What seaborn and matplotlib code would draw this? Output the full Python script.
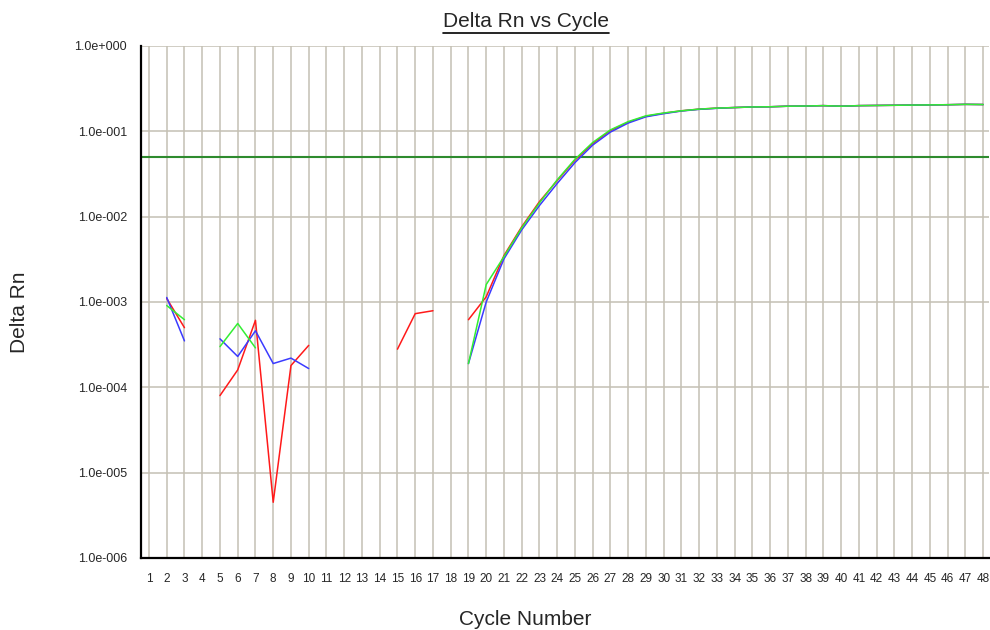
import numpy as np
import pandas as pd
import matplotlib
matplotlib.use("Agg")
import matplotlib.pyplot as plt
import seaborn as sns
from matplotlib.lines import Line2D
from matplotlib.ticker import FixedLocator, FuncFormatter

nan = np.nan

# Delta Rn per cycle for the three wells (nan = no value for that cycle)
cycles = list(range(1, 49))
red = [nan, 1.1e-3, 5.0e-4, nan, 8.0e-5, 1.6e-4, 6.1e-4, 4.5e-6, 1.8e-4, 3.1e-4,
       nan, nan, nan, nan, 2.8e-4, 7.3e-4, 7.9e-4, nan, 6.2e-4, 1.15e-3,
       3.5e-3, 7.6e-3, 1.5e-2, 2.65e-2, 4.6e-2, 7.2e-2, 0.102, 0.128, 0.150, 0.163,
       0.174, 0.182, 0.187, 0.190, 0.193, 0.194, 0.197, 0.198, 0.200, 0.197,
       0.200, 0.201, 0.202, 0.203, 0.204, 0.205, 0.207, 0.206]
blue = [nan, 1.13e-3, 3.5e-4, nan, 3.7e-4, 2.3e-4, 4.6e-4, 1.9e-4, 2.2e-4, 1.66e-4,
        nan, nan, nan, nan, nan, nan, nan, nan, 1.9e-4, 1.0e-3,
        3.2e-3, 7.0e-3, 1.35e-2, 2.45e-2, 4.3e-2, 6.9e-2, 0.098, 0.125, 0.148, 0.161,
        0.173, 0.181, 0.186, 0.190, 0.193, 0.194, 0.197, 0.198, 0.200, 0.197,
        0.200, 0.201, 0.202, 0.203, 0.204, 0.205, 0.207, 0.206]
green = [nan, 9.1e-4, 6.2e-4, nan, 3.0e-4, 5.6e-4, 2.9e-4, nan, nan, nan,
         nan, nan, nan, nan, nan, nan, nan, nan, 1.9e-4, 1.6e-3,
         3.4e-3, 7.4e-3, 1.45e-2, 2.7e-2, 4.7e-2, 7.4e-2, 0.104, 0.130, 0.152, 0.164,
         0.174, 0.182, 0.187, 0.190, 0.193, 0.194, 0.197, 0.198, 0.200, 0.197,
         0.200, 0.201, 0.202, 0.203, 0.204, 0.205, 0.207, 0.206]
threshold = 0.05

series = [("red", red, "#ff1a1a"), ("blue", blue, "#3b3bff"), ("green", green, "#33ee33")]

sns.set_style("white")
plt.rcParams["font.family"] = ["Liberation Sans", "DejaVu Sans"]

fig = plt.figure(figsize=(9.9, 6.3), dpi=100)
ax = fig.add_axes([0.1424, 0.1143, 0.857, 0.8127])

grid_c = "#c4c0b4"
for c in cycles:
    ax.axvline(c, color=grid_c, lw=1.1, zorder=0)

# one call per well so green ends up on top; runs split so gaps stay gaps
for i, (name, vals, col) in enumerate(series):
    vals = np.array(vals, dtype=float)
    seg = np.cumsum(np.isnan(vals))
    d = pd.DataFrame({"cycle": cycles, "drn": vals, "seg": seg}).dropna()
    sns.lineplot(data=d, x="cycle", y="drn", units="seg", estimator=None,
                 color=col, lw=1.1, ax=ax, zorder=3 + i)
ax.axhline(threshold, color="#2e8b2e", lw=1.5, zorder=2)

ax.set_yscale("log")
ax.set_ylim(1e-6, 1)
ax.set_xlim(0.55, 48.35)
decades = [10.0 ** e for e in range(-6, 1)]
ax.yaxis.set_major_locator(FixedLocator(decades))
ax.yaxis.set_minor_locator(FixedLocator([]))
ax.yaxis.set_major_formatter(FuncFormatter(lambda v, p: f"1.0e{int(round(np.log10(v))):+04d}"))
ax.set_xticks(cycles)
ax.set_xticklabels([str(c) for c in cycles])
ax.grid(axis="y", color=grid_c, lw=1.1, zorder=0)

for s in ["top", "right"]:
    ax.spines[s].set_visible(False)
for s in ["left", "bottom"]:
    ax.spines[s].set_color("black")
    ax.spines[s].set_linewidth(1.6)
ax.tick_params(axis="y", length=0, labelsize=9, pad=10)
ax.tick_params(axis="x", length=0, labelsize=8.5, pad=11)

ax.set_xlabel("Cycle Number", fontsize=15, va="center")
ax.set_ylabel("Delta Rn", fontsize=15, va="center")
ax.xaxis.set_label_coords(0.453, -0.121)
ax.yaxis.set_label_coords(-0.1427, 0.48)

title = fig.text(526 / 990, 0.966, "Delta Rn vs Cycle", fontsize=15, ha="center", va="center")
fig.canvas.draw()
bb = title.get_window_extent().transformed(fig.transFigure.inverted())
fig.add_artist(Line2D([bb.x0, bb.x1], [bb.y0 - 0.004, bb.y0 - 0.004],
                      transform=fig.transFigure, color="black", lw=1.2))

fig.savefig("out.png", dpi=100)
